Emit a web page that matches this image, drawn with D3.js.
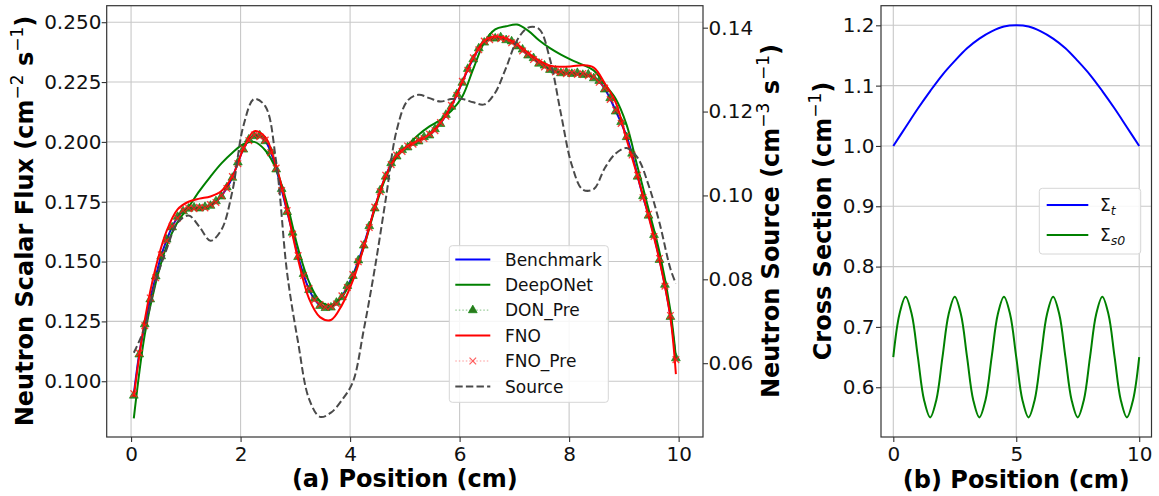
<!DOCTYPE html>
<html>
<head>
<meta charset="utf-8">
<script src="https://cdn.jsdelivr.net/npm/d3@7"></script>
<style>
body { margin: 0; background: #fff; }
svg { display: block; }
text { font-family: "DejaVu Sans", sans-serif; }
</style>
</head>
<body>
<svg id="chart" width="1159" height="496"></svg>
<script>
// fine grid (0.1 cm) for benchmark and the two "Pre" series
const xFine = d3.range(100).map(i => +(0.05 + 0.1 * i).toFixed(2));

const benchmark = [
  0.0945,0.1115,0.1235,0.1345,0.1435,0.1525,0.1590,0.1645,0.1685,0.1712,
  0.1722,0.1724,0.1724,0.1726,0.1735,0.1750,0.1774,0.1808,0.1852,0.1912,
  0.1970,0.2008,0.2026,0.2025,0.2005,0.1958,0.1888,0.1800,0.1710,0.1618,
  0.1522,0.1445,0.1384,0.1342,0.1318,0.1308,0.1310,0.1326,0.1354,0.1395,
  0.1443,0.1502,0.1570,0.1645,0.1725,0.1795,0.1858,0.1908,0.1942,0.1963,
  0.1980,0.1993,0.2005,0.2017,0.2030,0.2050,0.2078,0.2110,0.2150,0.2197,
  0.2250,0.2302,0.2348,0.2388,0.2418,0.2430,0.2435,0.2434,0.2428,0.2417,
  0.2402,0.2383,0.2364,0.2347,0.2330,0.2316,0.2304,0.2295,0.2290,0.2288,
  0.2287,0.2285,0.2283,0.2279,0.2269,0.2252,0.2222,0.2180,0.2130,0.2080,
  0.2023,0.1948,0.1858,0.1770,0.1695,0.1608,0.1510,0.1400,0.1272,0.1093
];

const donPre = [
  0.0940,0.1112,0.1238,0.1342,0.1438,0.1522,0.1592,0.1643,0.1687,0.1710,
  0.1721,0.1726,0.1722,0.1728,0.1733,0.1752,0.1772,0.1810,0.1850,0.1914,
  0.1968,0.2010,0.2024,0.2027,0.2003,0.1960,0.1885,0.1803,0.1707,0.1621,
  0.1519,0.1448,0.1381,0.1345,0.1315,0.1306,0.1308,0.1328,0.1351,0.1398,
  0.1440,0.1505,0.1567,0.1648,0.1722,0.1798,0.1855,0.1911,0.1939,0.1966,
  0.1977,0.1996,0.2002,0.2020,0.2027,0.2053,0.2075,0.2113,0.2147,0.2200,
  0.2247,0.2305,0.2345,0.2391,0.2415,0.2433,0.2432,0.2437,0.2425,0.2420,
  0.2399,0.2386,0.2361,0.2350,0.2327,0.2319,0.2301,0.2298,0.2287,0.2291,
  0.2284,0.2288,0.2280,0.2282,0.2266,0.2255,0.2219,0.2183,0.2127,0.2083,
  0.2020,0.1951,0.1855,0.1773,0.1692,0.1611,0.1507,0.1403,0.1269,0.1096
];

const fnoPre = [
  0.0948,0.1118,0.1232,0.1348,0.1432,0.1528,0.1587,0.1648,0.1682,0.1715,
  0.1724,0.1721,0.1727,0.1724,0.1738,0.1747,0.1776,0.1805,0.1855,0.1909,
  0.1973,0.2005,0.2029,0.2022,0.2008,0.1955,0.1891,0.1797,0.1713,0.1615,
  0.1525,0.1442,0.1387,0.1339,0.1321,0.1310,0.1313,0.1323,0.1357,0.1392,
  0.1446,0.1499,0.1573,0.1642,0.1728,0.1792,0.1861,0.1905,0.1945,0.1960,
  0.1983,0.1990,0.2008,0.2014,0.2033,0.2047,0.2081,0.2107,0.2153,0.2194,
  0.2253,0.2299,0.2351,0.2385,0.2421,0.2427,0.2438,0.2431,0.2431,0.2414,
  0.2405,0.2380,0.2367,0.2344,0.2333,0.2313,0.2307,0.2292,0.2293,0.2285,
  0.2290,0.2282,0.2286,0.2276,0.2272,0.2249,0.2225,0.2177,0.2133,0.2077,
  0.2026,0.1945,0.1861,0.1767,0.1698,0.1605,0.1513,0.1397,0.1275,0.1090
];

// coarser grid (0.2 cm) for DeepONet, FNO and the source
const xCoarse = [0.05,0.25,0.45,0.65,0.85,1.05,1.25,1.45,1.65,1.85,2.05,2.25,2.45,2.65,2.85,
  3.05,3.25,3.45,3.65,3.85,4.05,4.25,4.45,4.65,4.85,5.05,5.25,5.45,5.65,5.85,6.05,6.25,6.45,
  6.65,6.85,7.05,7.25,7.45,7.65,7.85,8.05,8.25,8.45,8.65,8.85,9.05,9.25,9.45,9.65,9.85,9.95];

const deepONet = [0.0845,0.1195,0.1410,0.1565,0.1665,0.1728,0.1795,0.1855,0.1910,0.1955,
  0.1990,0.2000,0.1965,0.1885,0.1740,0.1555,0.1415,0.1335,0.1318,0.1352,0.1435,0.1560,
  0.1718,0.1850,0.1935,0.1985,0.2030,0.2065,0.2092,0.2130,0.2190,0.2305,0.2415,0.2470,
  0.2483,0.2490,0.2465,0.2425,0.2392,0.2365,0.2342,0.2322,0.2298,0.2240,0.2180,0.2071,
  0.1895,0.1720,0.1540,0.1295,0.1100];

const fno = [0.0935,0.1255,0.1475,0.1628,0.1718,0.1750,0.1763,0.1772,0.1795,0.1855,
  0.1970,0.2045,0.2020,0.1900,0.1715,0.1510,0.1345,0.1268,0.1256,0.1318,0.1420,0.1560,
  0.1725,0.1858,0.1942,0.1982,0.2006,0.2032,0.2080,0.2152,0.2252,0.2352,0.2422,0.2440,
  0.2432,0.2408,0.2372,0.2340,0.2318,0.2314,0.2316,0.2320,0.2310,0.2245,0.2165,0.2010,
  0.1855,0.1690,0.1505,0.1265,0.1030];

const source = [0.0625,0.0685,0.0795,0.0872,0.0935,0.0952,0.0925,0.0892,0.0918,0.1010,
  0.1165,0.1230,0.1213,0.1080,0.0815,0.0650,0.0515,0.0472,0.0482,0.0512,0.0555,0.0680,
  0.0825,0.0990,0.1155,0.1226,0.1240,0.1232,0.1224,0.1230,0.1230,0.1222,0.1217,0.1245,
  0.1305,0.1370,0.1400,0.1397,0.1325,0.1195,0.1072,0.1014,0.1015,0.1065,0.1100,0.1113,
  0.1090,0.1025,0.0935,0.0825,0.0790];

// right panel: cross sections
const sigTX = [0,0.5,1,1.5,2,2.5,3,3.5,4,4.5,5,5.5,6,6.5,7,7.5,8,8.5,9,9.5,10];
const sigT = [1.000,1.031,1.062,1.091,1.118,1.141,1.162,1.178,1.190,1.198,1.200,
  1.198,1.190,1.178,1.162,1.141,1.118,1.091,1.062,1.031,1.000];
const sigSX = d3.range(41).map(i => i * 0.25);
const sigS0 = [0.650,0.721,0.750,0.721,0.650,0.579,0.550,0.579,
  0.650,0.721,0.750,0.721,0.650,0.579,0.550,0.579,
  0.650,0.721,0.750,0.721,0.650,0.579,0.550,0.579,
  0.650,0.721,0.750,0.721,0.650,0.579,0.550,0.579,
  0.650,0.721,0.750,0.721,0.650,0.579,0.550,0.579,0.650];

const xTicksA = [0, 2, 4, 6, 8, 10];
const fluxTicks = [0.100, 0.125, 0.150, 0.175, 0.200, 0.225, 0.250];
const srcTicks = [0.06, 0.08, 0.10, 0.12, 0.14];
const xTicksB = [0, 5, 10];
const csTicks = [0.6, 0.7, 0.8, 0.9, 1.0, 1.1, 1.2];

const svg = d3.select("#chart");

const A = { x0: 106.7, x1: 703, y0: 5.7, y1: 437 };
const B = { x0: 881, x1: 1151.5, y0: 5.7, y1: 437 };

const x = d3.scaleLinear().domain([-0.445, 10.445]).range([A.x0, A.x1]);
const yF = d3.scaleLinear().domain([0.0767, 0.2569]).range([A.y1, A.y0]);
const yS = d3.scaleLinear().domain([0.0424, 0.14524]).range([A.y1, A.y0]);
const xb = d3.scaleLinear().domain([-0.5, 10.5]).range([B.x0, B.x1]);
const yb = d3.scaleLinear().domain([0.5175, 1.2325]).range([B.y1, B.y0]);

const gridColor = "#c8c8c8";

function styleAxis(g) {
  g.select(".domain").remove();
  g.selectAll(".tick line").attr("stroke", "#333").attr("stroke-width", 1.1);
  g.selectAll(".tick text").attr("fill", "#111").attr("font-size", 20)
    .attr("font-family", "DejaVu Sans, sans-serif");
}

// ---------- panel (a) ----------
const gA = svg.append("g");
const gridA = gA.append("g");
gridA.selectAll("line.v").data(xTicksA).join("line").attr("class", "v")
  .attr("x1", d => x(d)).attr("x2", d => x(d)).attr("y1", A.y0).attr("y2", A.y1)
  .attr("stroke", gridColor).attr("stroke-width", 1.1);
gridA.selectAll("line.h").data(fluxTicks).join("line").attr("class", "h")
  .attr("x1", A.x0).attr("x2", A.x1).attr("y1", d => yF(d)).attr("y2", d => yF(d))
  .attr("stroke", gridColor).attr("stroke-width", 1.1);

const lineF = d3.line().x(d => x(d[0])).y(d => yF(d[1])).curve(d3.curveCatmullRom);
const lineS = d3.line().x(d => x(d[0])).y(d => yS(d[1])).curve(d3.curveCatmullRom);
const zip = (xs, vs) => xs.map((v, i) => [v, vs[i]]);

gA.append("path").datum(zip(xFine, benchmark)).attr("d", lineF)
  .attr("fill", "none").attr("stroke", "#0000ff").attr("stroke-width", 2);
gA.append("path").datum(zip(xCoarse, deepONet)).attr("d", lineF)
  .attr("fill", "none").attr("stroke", "#008000").attr("stroke-width", 2);

// DON_Pre: dotted line + triangles
gA.append("path").datum(zip(xFine, donPre)).attr("d", lineF)
  .attr("fill", "none").attr("stroke", "#008000").attr("stroke-opacity", 0.4)
  .attr("stroke-width", 1.2).attr("stroke-dasharray", "1.5,2");
const tri = d3.symbol(d3.symbolTriangle, 34);
gA.append("g").selectAll("path").data(zip(xFine, donPre)).join("path")
  .attr("d", tri)
  .attr("transform", d => `translate(${x(d[0])},${yF(d[1])})`)
  .attr("fill", "#2a7a1c").attr("fill-opacity", 0.9)
  .attr("stroke", "#008000").attr("stroke-width", 0.6);

gA.append("path").datum(zip(xCoarse, fno)).attr("d", lineF)
  .attr("fill", "none").attr("stroke", "#ff0000").attr("stroke-width", 2);

// FNO_Pre: dotted line + x markers
gA.append("path").datum(zip(xFine, fnoPre)).attr("d", lineF)
  .attr("fill", "none").attr("stroke", "#ff0000").attr("stroke-opacity", 0.4)
  .attr("stroke-width", 1.2).attr("stroke-dasharray", "1.5,2");
const xMark = "M-3.3,-3.3L3.3,3.3M-3.3,3.3L3.3,-3.3";
gA.append("g").selectAll("path").data(zip(xFine, fnoPre)).join("path")
  .attr("d", xMark)
  .attr("transform", d => `translate(${x(d[0])},${yF(d[1])})`)
  .attr("stroke", "#ff1a1a").attr("stroke-opacity", 0.85).attr("stroke-width", 1.3);

// source on the twin axis
gA.append("path").datum(zip(xCoarse, source)).attr("d", lineS)
  .attr("fill", "none").attr("stroke", "#4a4a4a").attr("stroke-width", 2)
  .attr("stroke-dasharray", "7.4,3.2");

gA.append("rect").attr("x", A.x0).attr("y", A.y0)
  .attr("width", A.x1 - A.x0).attr("height", A.y1 - A.y0)
  .attr("fill", "none").attr("stroke", "#333").attr("stroke-width", 1.2);

gA.append("g").attr("transform", `translate(${A.x0},0)`)
  .call(d3.axisLeft(yF).tickValues(fluxTicks).tickFormat(d3.format(".3f")).tickSize(5).tickPadding(0.3))
  .call(styleAxis);
gA.append("g").attr("transform", `translate(${A.x1},0)`)
  .call(d3.axisRight(yS).tickValues(srcTicks).tickFormat(d3.format(".2f")).tickSize(5).tickPadding(0.6))
  .call(styleAxis);
gA.append("g").attr("transform", `translate(0,${A.y1})`)
  .call(d3.axisBottom(x).tickValues(xTicksA).tickFormat(d3.format("d")).tickSize(5).tickPadding(4.8))
  .call(styleAxis);

// axis titles with superscripts
function supLabel(g, parts, tx, ty, rot) {
  const t = g.append("text")
    .attr("transform", `translate(${tx},${ty}) rotate(${rot})`)
    .attr("text-anchor", "middle")
    .attr("font-size", 24).attr("font-weight", "bold").attr("fill", "#000");
  parts.forEach(p => {
    if (p.sup) {
      t.append("tspan").attr("dy", -10).attr("font-size", 17).attr("font-weight", "normal").text(p.sup);
    } else {
      t.append("tspan").attr("dy", p.back ? 10 : 0).text(p.t);
    }
  });
}

supLabel(svg, [{ t: "Neutron Scalar Flux (cm" }, { sup: "\u22122" }, { t: " s", back: true },
  { sup: "\u22121" }, { t: ")", back: true }], 33, 221, -90);
supLabel(svg, [{ t: "Neutron Source (cm" }, { sup: "\u22123" }, { t: " s", back: true },
  { sup: "\u22121" }, { t: ")", back: true }], 779, 221, -90);
svg.append("text").attr("x", (A.x0 + A.x1) / 2).attr("y", 487)
  .attr("text-anchor", "middle").attr("font-size", 24).attr("font-weight", "bold")
  .text("(a) Position (cm)");

// legend (a)
const legA = [
  { name: "Benchmark", color: "#0000ff", kind: "solid" },
  { name: "DeepONet", color: "#008000", kind: "solid" },
  { name: "DON_Pre", color: "#008000", kind: "tri" },
  { name: "FNO", color: "#ff0000", kind: "solid" },
  { name: "FNO_Pre", color: "#ff0000", kind: "x" },
  { name: "Source", color: "#4a4a4a", kind: "dash" }
];
const lgA = svg.append("g").attr("transform", "translate(449.3,245.7)");
lgA.append("rect").attr("width", 159).attr("height", 156.6).attr("rx", 3)
  .attr("fill", "#fff").attr("fill-opacity", 0.85).attr("stroke", "#d6d6d6").attr("stroke-width", 1);
const rowA = lgA.selectAll("g.row").data(legA).join("g").attr("class", "row")
  .attr("transform", (d, i) => `translate(0,${13.7 + i * 25.4})`);
rowA.append("line").attr("x1", 6).attr("x2", 41)
  .attr("stroke", d => d.color)
  .attr("stroke-width", d => (d.kind === "tri" || d.kind === "x") ? 1.2 : 2)
  .attr("stroke-opacity", d => (d.kind === "tri" || d.kind === "x") ? 0.4 : 1)
  .attr("stroke-dasharray", d => d.kind === "dash" ? "7.4,3.2" : (d.kind === "solid" ? null : "1.5,2"));
rowA.filter(d => d.kind === "tri").append("path").attr("d", tri)
  .attr("transform", "translate(23.5,0)").attr("fill", "#2a7a1c").attr("stroke", "#008000").attr("stroke-width", 0.6);
rowA.filter(d => d.kind === "x").append("path").attr("d", xMark)
  .attr("transform", "translate(23.5,0)").attr("stroke", "#ff1a1a").attr("stroke-opacity", 0.7).attr("stroke-width", 1.2);
rowA.append("text").attr("x", 55.7).attr("y", 6.2).attr("font-size", 17).attr("fill", "#111").text(d => d.name);

// ---------- panel (b) ----------
const gB = svg.append("g");
gB.selectAll("line.v").data(xTicksB).join("line").attr("class", "v")
  .attr("x1", d => xb(d)).attr("x2", d => xb(d)).attr("y1", B.y0).attr("y2", B.y1)
  .attr("stroke", gridColor).attr("stroke-width", 1.1);
gB.selectAll("line.h").data(csTicks).join("line").attr("class", "h")
  .attr("x1", B.x0).attr("x2", B.x1).attr("y1", d => yb(d)).attr("y2", d => yb(d))
  .attr("stroke", gridColor).attr("stroke-width", 1.1);

const lineB = d3.line().x(d => xb(d[0])).y(d => yb(d[1])).curve(d3.curveCatmullRom);
gB.append("path").datum(zip(sigTX, sigT)).attr("d", lineB)
  .attr("fill", "none").attr("stroke", "#0000ff").attr("stroke-width", 2);
gB.append("path").datum(zip(sigSX, sigS0)).attr("d", lineB)
  .attr("fill", "none").attr("stroke", "#008000").attr("stroke-width", 2);

gB.append("rect").attr("x", B.x0).attr("y", B.y0)
  .attr("width", B.x1 - B.x0).attr("height", B.y1 - B.y0)
  .attr("fill", "none").attr("stroke", "#333").attr("stroke-width", 1.2);
gB.append("g").attr("transform", `translate(${B.x0},0)`)
  .call(d3.axisLeft(yb).tickValues(csTicks).tickFormat(d3.format(".1f")).tickSize(5).tickPadding(1.5))
  .call(styleAxis);
gB.append("g").attr("transform", `translate(0,${B.y1})`)
  .call(d3.axisBottom(xb).tickValues(xTicksB).tickFormat(d3.format("d")).tickSize(5).tickPadding(4.8))
  .call(styleAxis);

supLabel(svg, [{ t: "Cross Section (cm" }, { sup: "\u22121" }, { t: ")", back: true }], 831, 221, -90);
svg.append("text").attr("x", (B.x0 + B.x1) / 2).attr("y", 488)
  .attr("text-anchor", "middle").attr("font-size", 24).attr("font-weight", "bold")
  .text("(b) Position (cm)");

// legend (b)
const legB = [
  { sym: "\u03A3", sub: "t", color: "#0000ff" },
  { sym: "\u03A3", sub: "s0", color: "#008000" }
];
const lgB = svg.append("g").attr("transform", "translate(1039.3,188.3)");
lgB.append("rect").attr("width", 101.4).attr("height", 65.7).attr("rx", 3)
  .attr("fill", "#fff").attr("fill-opacity", 0.85).attr("stroke", "#d6d6d6").attr("stroke-width", 1);
const rowB = lgB.selectAll("g.row").data(legB).join("g").attr("class", "row")
  .attr("transform", (d, i) => `translate(0,${16.7 + i * 30})`);
rowB.append("line").attr("x1", 7.4).attr("x2", 49).attr("stroke", d => d.color).attr("stroke-width", 2);
const tB = rowB.append("text").attr("x", 60.7).attr("y", 6.2).attr("font-size", 17).attr("fill", "#111");
tB.append("tspan").text(d => d.sym);
tB.append("tspan").attr("dy", 4).attr("font-size", 12.5).attr("font-style", "italic").text(d => d.sub);
</script>
</body>
</html>
